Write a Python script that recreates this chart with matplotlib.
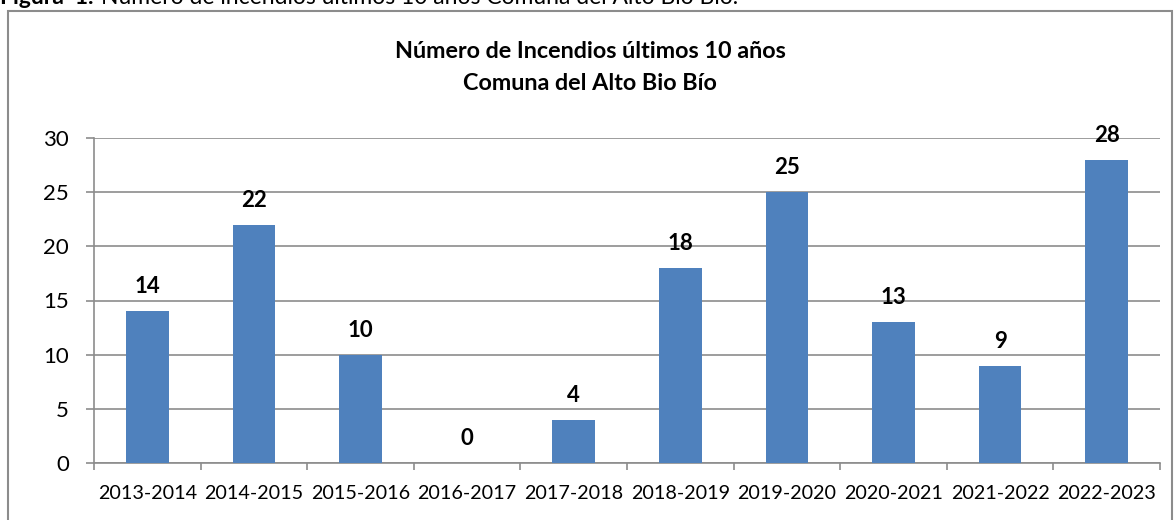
import matplotlib.pyplot as plt
from matplotlib.patches import Rectangle

# --- Datos ---
temporadas = ['2013-2014', '2014-2015', '2015-2016', '2016-2017', '2017-2018',
              '2018-2019', '2019-2020', '2020-2021', '2021-2022', '2022-2023']
incendios = [14, 22, 10, 0, 4, 18, 25, 13, 9, 28]
yticks = [0, 5, 10, 15, 20, 25, 30]

plt.rcParams['font.family'] = ['Lato', 'DejaVu Sans']

fig = plt.figure(figsize=(11.74, 5.2), dpi=100)
W, H = 1174, 520

# marco exterior del grafico
fig.patches.append(Rectangle((8 / W, -0.05), 1164 / W, 1.05 - 11 / H,
                             transform=fig.transFigure, fill=False,
                             edgecolor='#8c8c8c', linewidth=1.5, clip_on=False))

# leyenda de figura cortada arriba (como en el original)
fig.text(0.0, 1 - 4 / H, 'Figura  1.', fontsize=16.5, fontweight='bold',
         va='baseline', ha='left')
fig.text(101 / W, 1 - 4 / H, 'Número de incendios últimos 10 años Comuna del Alto Bio Bío.',
         fontsize=16.5, va='baseline', ha='left')

ax = fig.add_axes([94 / W, 1 - 463 / H, (1160 - 94) / W, (463 - 138) / H])
x = range(len(temporadas))
bars = ax.bar(x, incendios, width=0.4, color='#4f81bd', zorder=3)

for xi, v in zip(x, incendios):
    ax.annotate(str(v), (xi, v), xytext=(0, 10), textcoords='offset points',
                ha='center', va='bottom', fontsize=16, fontweight='bold')

ax.set_xlim(-0.5, len(temporadas) - 0.5)
ax.set_ylim(0, 30)
ax.set_yticks(yticks)
ax.set_yticklabels([str(t) for t in yticks], fontsize=16)
ax.set_xticks(list(x))
ax.set_xticklabels(temporadas, fontsize=14.2)
ax.set_xticks([i - 0.5 for i in range(len(temporadas) + 1)], minor=True)
ax.tick_params(axis='x', which='major', length=0, pad=16)
ax.tick_params(axis='x', which='minor', length=5, color='#8c8c8c', width=1.2)
ax.tick_params(axis='y', length=6, color='#8c8c8c', width=1.2, pad=12)

ax.grid(axis='y', color='#8c8c8c', linewidth=1.2, zorder=0)
for s in ['top', 'right']:
    ax.spines[s].set_visible(False)
for s in ['left', 'bottom']:
    ax.spines[s].set_color('#8c8c8c')
    ax.spines[s].set_linewidth(1.2)

fig.text(590 / W, 1 - 51 / H, 'Número de Incendios últimos 10 años',
         fontsize=16.8, fontweight='bold', ha='center', va='center')
fig.text(590 / W, 1 - 84 / H, 'Comuna del Alto Bio Bío',
         fontsize=16.8, fontweight='bold', ha='center', va='center')

fig.savefig('out.png', dpi=100)
